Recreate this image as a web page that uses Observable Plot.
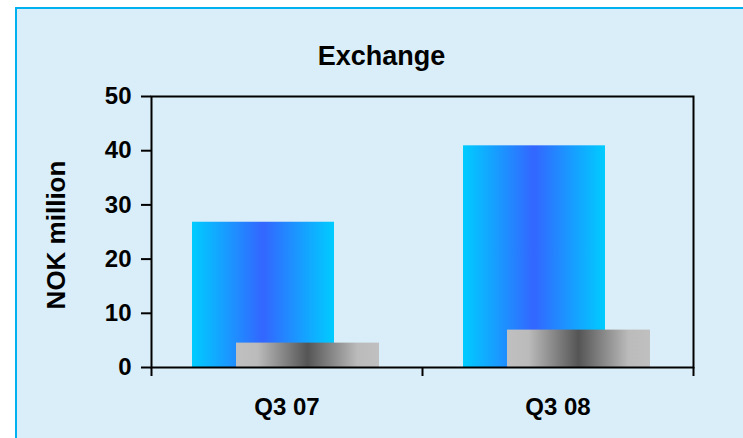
<!DOCTYPE html>
<html>
<head>
<meta charset="utf-8">
<script src="https://cdn.jsdelivr.net/npm/d3@7"></script>
<script src="https://cdn.jsdelivr.net/npm/@observablehq/plot@0.6"></script>
<style>
  html, body { margin: 0; padding: 0; background: #ffffff; overflow: hidden; }
  #wrap { position: relative; width: 743px; height: 438px; overflow: hidden; }
  #panel { position: absolute; left: 15px; top: 7px; width: 760px; height: 460px;
           background: #D9EEF9; border-top: 2px solid #00B0F0; border-left: 2px solid #00B0F0; }
  #chart { position: absolute; left: 0; top: 0; }
</style>
</head>
<body>
<div id="wrap"><div id="panel"></div><div id="chart"></div></div>
<script>
const title = "Exchange";
const yLabel = "NOK million";
const categories = ["Q3 07", "Q3 08"];
const seriesA = [26.8, 40.9];   // blue bars
const seriesB = [4.5, 6.9];     // grey bars
const yTicks = [0, 10, 20, 30, 40, 50];

const rowsA = categories.map((c, i) => ({cat: c, value: seriesA[i]}));
const rowsB = categories.map((c, i) => ({cat: c, value: seriesB[i]}));

const half = (743 - 151 - 50) / 4;

const svg = Plot.plot({
  width: 743,
  height: 438,
  marginLeft: 151,
  marginRight: 50,
  marginTop: 96,
  marginBottom: 71,
  style: {fontFamily: "'Liberation Sans', Arial, sans-serif", color: "#000", background: "transparent"},
  x: {domain: categories, padding: 0, label: null},
  y: {domain: [0, 50], label: null},
  marks: [
    Plot.barY(rowsA, {x: "cat", y: "value", fill: "url(#gradBlue)", insetLeft: 41, insetRight: 88}),
    Plot.barY(rowsB, {x: "cat", y: "value", fill: "url(#gradGrey)", insetLeft: 85, insetRight: 43}),
    Plot.frame({stroke: "#000", strokeWidth: 2}),
    Plot.axisY({ticks: yTicks, tickSize: 10, tickPadding: 10, fontSize: 24, fontWeight: "bold", strokeWidth: 2, label: null}),
    Plot.axisX({tickSize: 0, tickPadding: 30, fontSize: 24, fontWeight: "bold", label: null}),
    Plot.axisX({ticks: categories, tickSize: 9, tickFormat: () => "", dx: -half, strokeWidth: 2, label: null}),
    Plot.axisX({ticks: [categories[categories.length - 1]], tickSize: 9, tickFormat: () => "", dx: half, strokeWidth: 2, label: null}),
    Plot.text([title], {frameAnchor: "top", lineAnchor: "middle", dy: -40, dx: -41, fontSize: 27, fontWeight: "bold"}),
    Plot.text([yLabel], {frameAnchor: "left", textAnchor: "middle", rotate: -90, dx: -95, dy: 3, fontSize: 26, fontWeight: "bold"})
  ]
});

svg.style.background = "transparent";
const ns = "http://www.w3.org/2000/svg";
const defs = document.createElementNS(ns, "defs");
function grad(id, stops) {
  const g = document.createElementNS(ns, "linearGradient");
  g.setAttribute("id", id);
  g.setAttribute("x1", "0"); g.setAttribute("x2", "1");
  g.setAttribute("y1", "0"); g.setAttribute("y2", "0");
  for (const [o, c] of stops) {
    const s = document.createElementNS(ns, "stop");
    s.setAttribute("offset", o);
    s.setAttribute("stop-color", c);
    g.appendChild(s);
  }
  defs.appendChild(g);
}
grad("gradBlue", [["0%", "#00CCFF"], ["50%", "#3366FF"], ["100%", "#00CCFF"]]);
grad("gradGrey", [["0%", "#C0C0C0"], ["15%", "#BBBBBB"], ["50%", "#555555"], ["85%", "#BBBBBB"], ["100%", "#C0C0C0"]]);
svg.insertBefore(defs, svg.firstChild);
document.getElementById("chart").appendChild(svg);
</script>
</body>
</html>
